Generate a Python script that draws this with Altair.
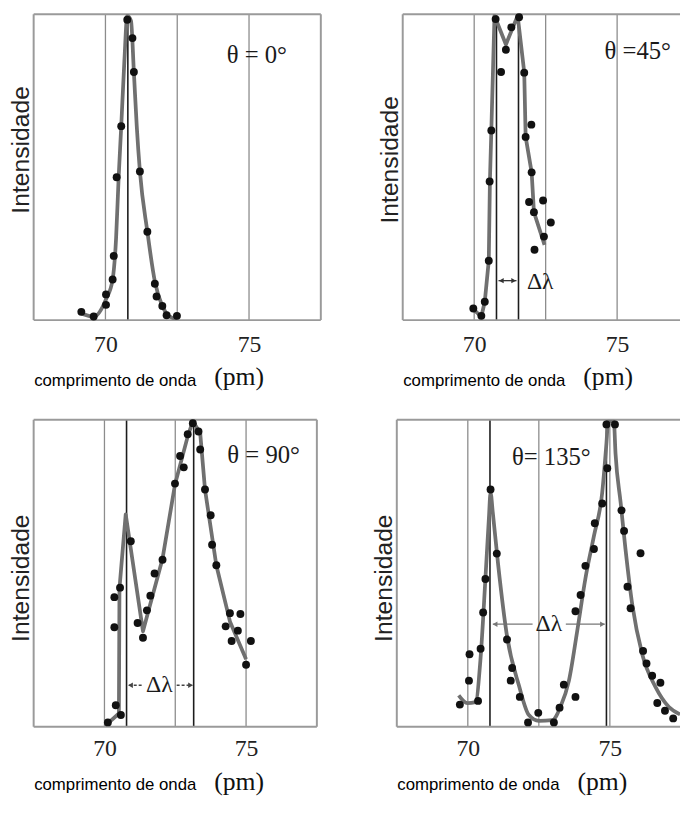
import altair as alt
import pandas as pd

# ---------------- data ----------------
# theta = 0 deg
p1_dot_x = [69.16, 69.59, 70.02, 70.02, 70.25, 70.29, 70.39, 70.55, 70.76, 70.94, 70.99, 71.20, 71.46, 71.72, 71.78, 71.98, 72.13, 72.49]
p1_dot_y = [0.027, 0.012, 0.084, 0.050, 0.133, 0.210, 0.467, 0.634, 0.982, 0.922, 0.811, 0.486, 0.289, 0.119, 0.077, 0.046, 0.016, 0.014]
p1_line_x = [69.10, 69.59, 70.02, 70.25, 70.37, 70.46, 70.55, 70.66, 70.76, 70.89, 70.99, 71.09, 71.20, 71.46, 71.72, 71.98, 72.21, 72.49]
p1_line_y = [0.025, 0.011, 0.068, 0.133, 0.267, 0.467, 0.634, 0.849, 0.995, 0.978, 0.811, 0.634, 0.486, 0.289, 0.127, 0.046, 0.014, 0.003]

# theta = 45 deg
p2_dot_x = [69.97, 70.25, 70.37, 70.51, 70.54, 70.60, 70.75, 70.94, 71.11, 71.30, 71.57, 71.75, 71.80, 72.00, 72.01, 71.92, 72.09, 72.11, 72.41, 72.44, 72.68]
p2_dot_y = [0.038, 0.014, 0.060, 0.194, 0.453, 0.620, 0.984, 0.811, 0.884, 0.957, 0.990, 0.809, 0.599, 0.639, 0.483, 0.386, 0.353, 0.230, 0.391, 0.273, 0.319]
p2_line_x = [69.97, 70.25, 70.37, 70.51, 70.55, 70.60, 70.71, 71.11, 71.52, 71.75, 71.80, 72.01, 72.09, 72.46]
p2_line_y = [0.036, 0.011, 0.060, 0.194, 0.453, 0.620, 0.995, 0.901, 0.995, 0.811, 0.599, 0.483, 0.353, 0.246]

# theta = 90 deg
p3_dot_x = [70.12, 70.40, 70.58, 70.35, 70.35, 70.55, 70.93, 71.17, 71.36, 71.50, 71.62, 71.77, 72.05, 72.49, 72.67, 72.80, 72.94, 73.12, 73.32, 73.38, 73.55, 73.75, 73.80, 73.95, 74.43, 74.28, 74.49, 74.71, 74.80, 75.17, 75.00]
p3_dot_y = [0.014, 0.070, 0.038, 0.324, 0.422, 0.453, 0.604, 0.338, 0.290, 0.379, 0.427, 0.499, 0.544, 0.792, 0.882, 0.845, 0.953, 0.989, 0.962, 0.903, 0.773, 0.689, 0.593, 0.526, 0.370, 0.327, 0.279, 0.313, 0.367, 0.279, 0.202]
p3_line_x = [70.12, 70.51, 70.53, 70.75, 71.36, 72.05, 72.49, 72.94, 73.12, 73.38, 73.55, 73.95, 74.43, 75.00]
p3_line_y = [0.011, 0.043, 0.451, 0.692, 0.311, 0.547, 0.789, 0.946, 0.995, 0.957, 0.773, 0.526, 0.343, 0.220]

# theta = 135 deg
p4_dot_x = [69.72, 70.04, 70.06, 70.36, 70.45, 70.54, 70.62, 70.80, 71.02, 71.38, 71.56, 71.51, 71.83, 72.12, 72.48, 73.03, 73.23, 73.38, 73.79, 73.79, 73.97, 74.14, 74.44, 74.47, 74.73, 74.91, 74.88, 75.18, 75.41, 75.50, 76.08, 75.62, 75.73, 76.17, 76.29, 76.49, 76.78, 76.67, 76.94, 77.23]
p4_dot_y = [0.072, 0.150, 0.236, 0.084, 0.254, 0.372, 0.481, 0.773, 0.564, 0.284, 0.191, 0.150, 0.097, 0.014, 0.045, 0.014, 0.062, 0.137, 0.097, 0.376, 0.429, 0.524, 0.579, 0.663, 0.727, 0.842, 0.985, 0.985, 0.705, 0.638, 0.565, 0.456, 0.386, 0.247, 0.206, 0.166, 0.143, 0.077, 0.052, 0.027]
p4_line_x = [69.68, 69.98, 70.27, 70.45, 70.62, 70.74, 70.80, 70.88, 71.07, 71.38, 71.80, 72.15, 72.50, 72.97, 73.26, 73.56, 73.85, 74.14, 74.44, 74.73, 74.88, 74.94, 75.14, 75.20, 75.38, 75.55, 75.79, 76.14, 76.61, 77.08, 77.47]
p4_line_y = [0.102, 0.077, 0.080, 0.225, 0.483, 0.676, 0.762, 0.697, 0.526, 0.295, 0.134, 0.038, 0.019, 0.021, 0.064, 0.150, 0.311, 0.483, 0.622, 0.762, 0.923, 0.995, 0.995, 0.890, 0.730, 0.579, 0.397, 0.236, 0.129, 0.064, 0.040]

grid_lines = [70, 72.5, 75]
p1_peaks = [70.78]
p2_peaks = [70.78, 71.55]
p3_peaks = [70.78, 73.15]
p4_peaks = [70.78, 74.88]
tick_values = [70, 75]

theta_texts = ["θ = 0°", "θ =45°", "θ = 90°", "θ= 135°"]

# ---------------- styling ----------------
GRID = "#8c8c8c"
FRAME = "#9a9a9a"
CURVE = "#707070"
DOT = "#111111"
SERIF = "Liberation Serif"
SANS = "Liberation Sans"


def panel(dx, dy, lx, ly, peaks, xmax, w, h, theta, tpos, dl_pos, segs, heads,
          seg_color, seg_dash, lab_pad, title_y, ytitle_y, right_frame, smooth):
    xs = alt.Scale(domain=[67.5, xmax], nice=False, zero=False)
    ys = alt.Scale(domain=[0, 1], nice=False, zero=False)
    xax = alt.Axis(values=tick_values, format="d", ticks=False, domain=False, grid=False,
                   labelFont=SERIF, labelFontSize=24, labelColor="#222222", labelPadding=lab_pad,
                   title="comprimento de onda", titleFont=SANS, titleFontSize=17,
                   titleFontWeight="normal", titleColor="#000000", titleAnchor="start",
                   titleAlign="left", titleX=0, titleY=title_y, titleBaseline="alphabetic")
    yax = alt.Axis(labels=False, ticks=False, domain=False, grid=False, minExtent=0,
                   title="Intensidade", titleFont=SANS, titleFontSize=25,
                   titleFontWeight="normal", titleColor="#222222", titlePadding=0,
                   titleY=ytitle_y)

    def X(f):
        return alt.X(f, type="quantitative", scale=xs, axis=xax)

    def Y(f):
        return alt.Y(f, type="quantitative", scale=ys, axis=yax)

    one = pd.DataFrame({"a": [0]})
    layers = []
    layers.append(alt.Chart(pd.DataFrame({"x": grid_lines})).mark_rule(color=GRID, strokeWidth=1.3)
                  .encode(x=X("x")))
    layers.append(alt.Chart(pd.DataFrame({"x": peaks})).mark_rule(color="#1c1c1c", strokeWidth=1.6)
                  .encode(x=X("x")))
    # frame
    layers.append(alt.Chart(one).mark_rule(color=FRAME, strokeWidth=2)
                  .encode(x=alt.value(0), x2=alt.value(w), y=alt.value(0)))
    layers.append(alt.Chart(one).mark_rule(color=FRAME, strokeWidth=2)
                  .encode(x=alt.value(0), x2=alt.value(w), y=alt.value(h)))
    layers.append(alt.Chart(one).mark_rule(color=FRAME, strokeWidth=2)
                  .encode(x=alt.value(0), y=alt.value(0), y2=alt.value(h)))
    if right_frame:
        layers.append(alt.Chart(one).mark_rule(color=FRAME, strokeWidth=2)
                      .encode(x=alt.value(w), y=alt.value(0), y2=alt.value(h)))
    # arrows around delta-lambda
    seg_df = pd.DataFrame({"x": [s[0] for s in segs], "x2": [s[1] for s in segs], "y": [s[2] for s in segs]})
    rule_kw = dict(color=seg_color, strokeWidth=1.3)
    if seg_dash:
        rule_kw["strokeDash"] = seg_dash
    layers.append(alt.Chart(seg_df).mark_rule(**rule_kw)
                  .encode(x=X("x"), x2="x2", y=Y("y")))
    head_df = pd.DataFrame({"x": [hd[0] for hd in heads], "y": [hd[1] for hd in heads],
                            "s": [hd[2] for hd in heads]})
    layers.append(alt.Chart(head_df).mark_point(filled=True, color=seg_color, size=30, opacity=1)
                  .encode(x=X("x"), y=Y("y"), shape=alt.Shape("s:N", scale=None)))
    # curve and dots
    line_kw = dict(color=CURVE, strokeWidth=3.8, clip=True, strokeJoin="round")
    if smooth:
        line_kw["interpolate"] = "monotone"
    layers.append(alt.Chart(pd.DataFrame({"x": lx, "y": ly})).mark_line(**line_kw)
                  .encode(x=X("x"), y=Y("y")))
    layers.append(alt.Chart(pd.DataFrame({"x": dx, "y": dy})).mark_circle(color=DOT, size=64, opacity=1)
                  .encode(x=X("x"), y=Y("y")))
    # labels
    layers.append(alt.Chart(pd.DataFrame({"x": [tpos[0]], "y": [tpos[1]], "t": [theta]}))
                  .mark_text(font=SERIF, fontSize=25, align="center", baseline="alphabetic", color="#1a1a1a")
                  .encode(x=X("x"), y=Y("y"), text="t:N"))
    if dl_pos is not None:
        layers.append(alt.Chart(pd.DataFrame({"x": [dl_pos[0]], "y": [dl_pos[1]], "t": ["Δλ"]}))
                      .mark_text(font=SERIF, fontSize=24, align="center", baseline="middle", color="#1a1a1a")
                      .encode(x=X("x"), y=Y("y"), text="t:N"))
    layers.append(alt.Chart(one).mark_text(text="(pm)", font=SERIF, fontSize=26, align="left",
                                           baseline="alphabetic", color="#111111")
                  .encode(x=alt.value(183), y=alt.value(h + title_y)))
    return alt.layer(*layers).properties(width=w, height=h)


p1 = panel(p1_dot_x, p1_dot_y, p1_line_x, p1_line_y, p1_peaks, 77.5, 291, 310,
           theta_texts[0], (75.27, 0.842), None, [], [], "#333333", None, 13, 66, 137, True, True)

p2 = panel(p2_dot_x, p2_dot_y, p2_line_x, p2_line_y, p2_peaks, 77.2, 281, 310,
           theta_texts[1], (75.72, 0.855), (72.31, 0.125),
           [(70.85, 71.48, 0.129)],
           [(70.95, 0.129, "triangle-left"), (71.38, 0.129, "triangle-right")],
           "#333333", None, 13, 66, 147, False, False)

p3 = panel(p3_dot_x, p3_dot_y, p3_line_x, p3_line_y, p3_peaks, 77.5, 287, 311,
           theta_texts[2], (75.62, 0.859), (71.94, 0.135),
           [(70.86, 71.36, 0.135), (72.55, 73.10, 0.135)],
           [(70.92, 0.135, "triangle-left"), (73.04, 0.135, "triangle-right")],
           "#444444", [3, 2], 10, 64, 160, True, False)

p4 = panel(p4_dot_x, p4_dot_y, p4_line_x, p4_line_y, p4_peaks, 77.47, 287, 311,
           theta_texts[3], (72.94, 0.852), (72.85, 0.334),
           [(70.88, 72.28, 0.334), (73.45, 74.82, 0.334)],
           [(70.96, 0.334, "triangle-left"), (74.74, 0.334, "triangle-right")],
           "#777777", None, 10, 64, 160, False, True)

row1 = alt.hconcat(p1, p2, spacing=83, bounds="flush")
row2 = alt.hconcat(p3, p4, spacing=81, bounds="flush")

chart = (
    alt.vconcat(row1, row2, spacing=29)
    .properties(padding={"left": 1, "top": 0, "right": 0, "bottom": 0}, background="white")
    .configure_view(stroke=None)
)

chart.save("out.html", embed_options={"renderer": "svg", "actions": False})
